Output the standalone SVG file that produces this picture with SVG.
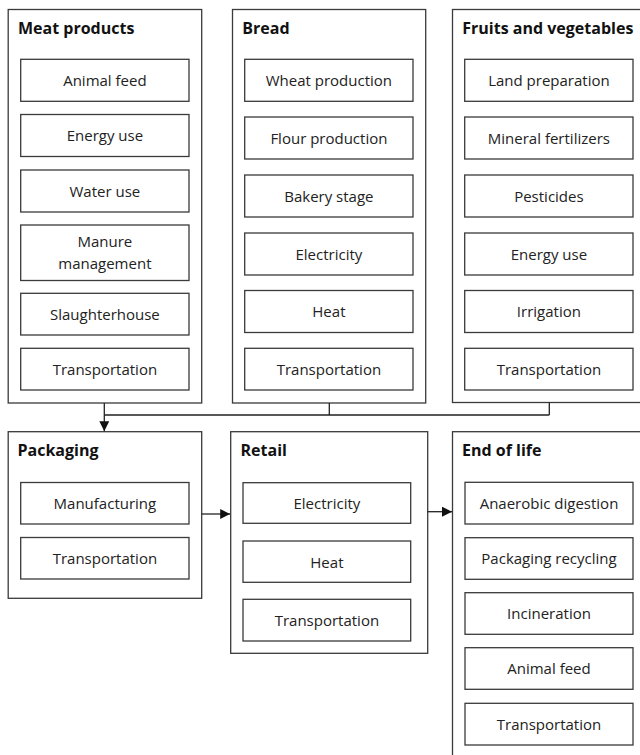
<svg xmlns="http://www.w3.org/2000/svg" width="640" height="755" viewBox="0 0 640 755">
<defs>
<style>
.outer{fill:#fff;stroke:#3a3a3a;stroke-width:1.3}
.inner{fill:#fff;stroke:#3a3a3a;stroke-width:1.3}
.title{font-family:"Open Sans","Liberation Sans",sans-serif;font-weight:bold;font-size:16px;fill:#111}
.lbl{font-family:"Open Sans","Liberation Sans",sans-serif;font-size:15px;fill:#222;text-anchor:middle}
.conn{fill:none;stroke:#222;stroke-width:1.3}
</style>
<marker id="ah" viewBox="0 0 10 10" refX="10" refY="5" markerWidth="10" markerHeight="10" markerUnits="userSpaceOnUse" orient="auto">
<path d="M0,0 L10,5 L0,10 Z" fill="#111"/>
</marker>
</defs>
<rect width="640" height="755" fill="#fff"/>

<g id="meat">
<rect class="outer" x="8.2" y="9.5" width="193.5" height="393.5"/>
<text class="title" x="18" y="34">Meat products</text>
<rect class="inner" x="20.7" y="59.3" width="168.3" height="42"/>
<text class="lbl" x="104.9" y="86">Animal feed</text>
<rect class="inner" x="20.7" y="114.5" width="168.3" height="42"/>
<text class="lbl" x="104.9" y="141">Energy use</text>
<rect class="inner" x="20.7" y="170" width="168.3" height="42"/>
<text class="lbl" x="104.9" y="196.5">Water use</text>
<rect class="inner" x="20.7" y="225" width="168.3" height="55.5"/>
<text class="lbl" x="104.9" y="246.5">Manure</text>
<text class="lbl" x="104.9" y="268.5">management</text>
<rect class="inner" x="20.7" y="293.3" width="168.3" height="41.7"/>
<text class="lbl" x="104.9" y="320">Slaughterhouse</text>
<rect class="inner" x="20.7" y="348.3" width="168.3" height="41.7"/>
<text class="lbl" x="104.9" y="375">Transportation</text>
</g>

<g id="bread">
<rect class="outer" x="232.5" y="9.5" width="193.2" height="393.5"/>
<text class="title" x="242.3" y="34">Bread</text>
<rect class="inner" x="244.7" y="59.3" width="168.3" height="42"/>
<text class="lbl" x="328.9" y="86">Wheat production</text>
<rect class="inner" x="244.7" y="117" width="168.3" height="42"/>
<text class="lbl" x="328.9" y="143.5">Flour production</text>
<rect class="inner" x="244.7" y="175" width="168.3" height="42"/>
<text class="lbl" x="328.9" y="201.5">Bakery stage</text>
<rect class="inner" x="244.7" y="233" width="168.3" height="42"/>
<text class="lbl" x="328.9" y="259.5">Electricity</text>
<rect class="inner" x="244.7" y="290.5" width="168.3" height="42"/>
<text class="lbl" x="328.9" y="317">Heat</text>
<rect class="inner" x="244.7" y="348.3" width="168.3" height="41.7"/>
<text class="lbl" x="328.9" y="375">Transportation</text>
</g>

<g id="fruits">
<rect class="outer" x="452.5" y="9.5" width="200" height="393"/>
<text class="title" x="462.3" y="34">Fruits and vegetables</text>
<rect class="inner" x="464.7" y="59.3" width="168.3" height="42"/>
<text class="lbl" x="548.9" y="86">Land preparation</text>
<rect class="inner" x="464.7" y="117" width="168.3" height="42"/>
<text class="lbl" x="548.9" y="143.5">Mineral fertilizers</text>
<rect class="inner" x="464.7" y="175" width="168.3" height="42"/>
<text class="lbl" x="548.9" y="201.5">Pesticides</text>
<rect class="inner" x="464.7" y="233" width="168.3" height="42"/>
<text class="lbl" x="548.9" y="259.5">Energy use</text>
<rect class="inner" x="464.7" y="290.5" width="168.3" height="42"/>
<text class="lbl" x="548.9" y="317">Irrigation</text>
<rect class="inner" x="464.7" y="348.3" width="168.3" height="41.7"/>
<text class="lbl" x="548.9" y="375">Transportation</text>
</g>

<g id="packaging">
<rect class="outer" x="8.2" y="431.7" width="193.5" height="166.6"/>
<text class="title" x="17.5" y="456">Packaging</text>
<rect class="inner" x="20.7" y="482.5" width="168.3" height="41.5"/>
<text class="lbl" x="104.9" y="509">Manufacturing</text>
<rect class="inner" x="20.7" y="537.5" width="168.3" height="41.5"/>
<text class="lbl" x="104.9" y="564">Transportation</text>
</g>

<g id="retail">
<rect class="outer" x="230.7" y="431.7" width="197" height="221.6"/>
<text class="title" x="240.5" y="456">Retail</text>
<rect class="inner" x="243" y="482.7" width="167.7" height="40.6"/>
<text class="lbl" x="326.9" y="509">Electricity</text>
<rect class="inner" x="243" y="541" width="167.7" height="41.3"/>
<text class="lbl" x="326.9" y="567.5">Heat</text>
<rect class="inner" x="243" y="599.3" width="167.7" height="41.7"/>
<text class="lbl" x="326.9" y="626">Transportation</text>
</g>

<g id="endoflife">
<rect class="outer" x="452.5" y="431.7" width="200" height="400"/>
<text class="title" x="462" y="456">End of life</text>
<rect class="inner" x="465" y="482.3" width="168" height="41.7"/>
<text class="lbl" x="549" y="509">Anaerobic digestion</text>
<rect class="inner" x="465" y="537.7" width="168" height="41.6"/>
<text class="lbl" x="549" y="564">Packaging recycling</text>
<rect class="inner" x="465" y="592.7" width="168" height="41.6"/>
<text class="lbl" x="549" y="619">Incineration</text>
<rect class="inner" x="465" y="647.7" width="168" height="41.6"/>
<text class="lbl" x="549" y="674">Animal feed</text>
<rect class="inner" x="465" y="703.3" width="168" height="41.7"/>
<text class="lbl" x="549" y="730">Transportation</text>
</g>

<g id="connectors">
<path class="conn" d="M329.3,403 V415 M549.3,402.5 V415 M549.3,415 H104.3"/>
<path class="conn" d="M104.3,403 V431.2" marker-end="url(#ah)"/>
<path class="conn" d="M201.7,514 H230.2" marker-end="url(#ah)"/>
<path class="conn" d="M427.7,511.7 H452" marker-end="url(#ah)"/>
</g>
</svg>
